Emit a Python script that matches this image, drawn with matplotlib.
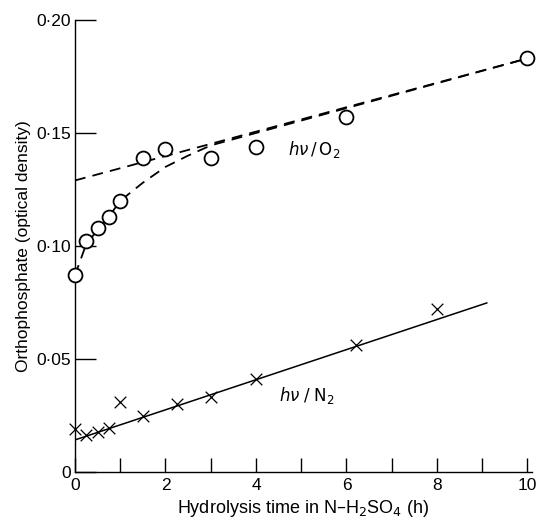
import numpy as np
import matplotlib
matplotlib.use('Agg')
import matplotlib.pyplot as plt
from matplotlib.ticker import FixedLocator, FuncFormatter

plt.rcParams['font.family'] = ['Liberation Sans', 'DejaVu Sans']

# hv / O2 points (circles)
o2_time = [0, 0.25, 0.5, 0.75, 1.0, 1.5, 2.0, 3.0, 4.0, 6.0, 10.0]
o2_od = [0.087, 0.102, 0.108, 0.113, 0.120, 0.139, 0.143, 0.139, 0.144, 0.157, 0.183]

# dashed straight line (extrapolated to t=0)
o2_line_time = [0, 10]
o2_line_od = [0.129, 0.183]

# dashed curve through the early points
o2_curve_time = [0, 0.25, 0.5, 0.75, 1.0, 1.5, 2.0, 2.5, 3.0, 10.0]
o2_curve_od = [0.087, 0.101, 0.107, 0.113, 0.120, 0.128, 0.135, 0.140, 0.1445, 0.183]

# hv / N2 points (crosses)
n2_time = [0, 0.25, 0.5, 0.75, 1.0, 1.5, 2.25, 3.0, 4.0, 6.2, 8.0]
n2_od = [0.019, 0.0165, 0.0177, 0.0195, 0.031, 0.025, 0.030, 0.033, 0.041, 0.056, 0.072]

n2_line_time = [0, 9.1]
n2_line_od = [0.0142, 0.0748]

x_ticks = [0, 2, 4, 6, 8, 10]
y_ticks = [0, 0.05, 0.10, 0.15, 0.20]


def fmt_y(v, pos):
    if v == 0:
        return '0'
    return '{:.2f}'.format(v).replace('.', '\u00b7')


fig = plt.figure(figsize=(5.38, 5.2), dpi=100)
ax = fig.add_axes([75 / 538, 48 / 520, 457 / 538, 452 / 520])

ax.plot(o2_line_time, o2_line_od, 'k', lw=1.3, dashes=(6, 4))
ax.plot(o2_curve_time, o2_curve_od, 'k', lw=1.3, dashes=(6, 4))
ax.plot(n2_line_time, n2_line_od, 'k-', lw=1.1)

ax.scatter(o2_time, o2_od, s=100, facecolors='white', edgecolors='k',
           linewidths=1.3, zorder=3, clip_on=False)
ax.scatter(n2_time, n2_od, s=70, marker='x', c='k', linewidths=0.9,
           zorder=3, clip_on=False)

ax.text(4.7, 0.1425, r'$h\nu\,/\,\mathrm{O_2}$', fontsize=12, ha='left', va='center')
ax.text(4.5, 0.034, r'$h\nu\;/\;\mathrm{N_2}$', fontsize=12, ha='left', va='center')

ax.set_xlim(0, 10.1)
ax.set_ylim(0, 0.2)
for s in ['top', 'right']:
    ax.spines[s].set_visible(False)
ax.spines['left'].set_linewidth(1.0)
ax.spines['bottom'].set_linewidth(1.0)

ax.xaxis.set_major_locator(FixedLocator(x_ticks))
ax.xaxis.set_minor_locator(FixedLocator([1, 3, 5, 7, 9]))
ax.yaxis.set_major_locator(FixedLocator(y_ticks))
ax.yaxis.set_major_formatter(FuncFormatter(fmt_y))
ax.tick_params(axis='x', which='both', direction='in', length=10, width=1.0,
               labelsize=12.5, pad=4)
ax.tick_params(axis='y', direction='in', length=15, width=1.0,
               labelsize=12.5, pad=3)

ax.set_xlabel('Hydrolysis time in N\u2013H$_2$SO$_4$ (h)', fontsize=13, labelpad=4)
ax.set_ylabel('Orthophosphate (optical density)', fontsize=12.5, labelpad=4)

fig.savefig('out.png', dpi=100)
